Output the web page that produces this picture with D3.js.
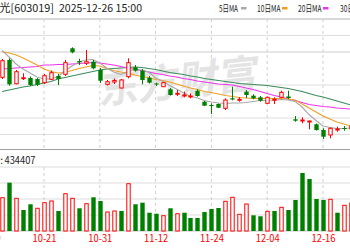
<!DOCTYPE html>
<html>
<head>
<meta charset="utf-8">
<script src="https://cdn.jsdelivr.net/npm/d3@7"></script>
<style>
  html, body { margin: 0; padding: 0; background: #fff; overflow: hidden; }
  text { font-family: "Noto Sans CJK SC", "DejaVu Sans", sans-serif; }
</style>
</head>
<body>
<svg id="kchart" width="350" height="250"></svg>
<script>

/****************************************************************************
 *  data
 ****************************************************************************/
var dates = ['10-13','10-14','10-15','10-16','10-17','10-20','10-21','10-22','10-23','10-24',
  '10-27','10-28','10-29','10-30','10-31','11-03','11-04','11-05','11-06','11-07',
  '11-10','11-11','11-12','11-13','11-14','11-17','11-18','11-19','11-20','11-21',
  '11-24','11-25','11-26','11-27','11-28','12-01','12-02','12-03','12-04','12-05',
  '12-08','12-09','12-10','12-11','12-12','12-15','12-16','12-17','12-18','12-19',
  '12-22'];
// trading days before the first visible candle (only used for the axis)
var earlyDates = ['10-09', '10-10'];

var opens = [92.33, 97.58, 90.39, 91.91, 92.12, 91.82, 90.70, 91.73, 92.73, 93.24,
  101.12, 97.27, 96.58, 97.06, 94.55, 90.21, 90.91, 89.09, 92.52, 95.36,
  94.33, 92.21, 90.45, 89.48, 88.70, 87.27, 86.67, 86.36, 88.27, 84.94,
  83.94, 84.24, 82.94, 85.97, 85.36, 87.97, 86.76, 86.27, 84.45, 85.45,
  86.27, 86.52, 79.61, 79.09, 78.79, 78.09, 76.36, 74.85, 76.45, 76.97,
  76.67];
var closes = [97.36, 90.21, 94.03, 92.21, 90.00, 90.09, 92.82, 93.73, 91.82, 96.76,
  99.91, 96.88, 97.06, 95.06, 91.30, 91.00, 91.36, 91.52, 96.76, 94.33,
  91.52, 90.70, 90.15, 90.70, 86.97, 87.48, 86.97, 86.67, 86.67, 83.73,
  83.73, 83.12, 85.45, 85.61, 85.67, 86.97, 85.97, 85.24, 86.27, 85.67,
  87.79, 86.06, 79.18, 79.39, 79.09, 76.36, 74.33, 76.88, 76.67, 76.67,
  77.58];
var highs = [97.88, 98.09, 94.55, 93.55, 92.58, 92.12, 93.33, 94.39, 93.33, 97.58,
  101.42, 97.97, 100.61, 97.58, 95.15, 91.52, 91.97, 91.82, 98.09, 96.06,
  94.85, 92.73, 90.70, 90.91, 89.09, 88.48, 87.97, 87.48, 88.70, 85.15,
  84.45, 84.39, 85.97, 89.48, 86.27, 88.48, 87.18, 86.67, 86.52, 86.27,
  88.27, 88.27, 80.61, 80.21, 79.18, 78.33, 76.88, 77.12, 77.36, 77.58,
  77.88];
var lows = [91.82, 89.79, 90.21, 91.52, 89.70, 89.70, 90.30, 91.52, 90.00, 92.73,
  99.61, 96.06, 96.06, 94.76, 90.61, 89.85, 90.30, 88.94, 92.03, 94.03,
  90.21, 90.45, 89.70, 89.39, 86.82, 86.67, 86.27, 85.97, 86.45, 83.64,
  81.21, 83.03, 82.42, 85.36, 84.94, 86.06, 85.67, 84.94, 84.24, 84.24,
  85.97, 85.76, 78.88, 78.39, 76.58, 76.21, 73.64, 73.85, 75.85, 76.15,
  76.36];

var volumes = [624000, 906000, 613000, 394000, 501000, 426000, 531000, 563000, 375000, 699000,
  613000, 426000, 512000, 632000, 563000, 356000, 375000, 375000, 887000, 501000,
  531000, 343000, 324000, 287000, 426000, 324000, 343000, 244000, 244000, 356000,
  413000, 431000, 557000, 632000, 313000, 506000, 294000, 276000, 369000, 375000,
  444000, 394000, 581000, 1088000, 975000, 600000, 581000, 594000, 343000, 482000,
  525000];
// volume colour follows close vs previous close: u = red, d = green
var volDir = ['u','d','u','d','d','u','u','u','d','u',
  'u','d','u','d','d','u','u','d','u','d',
  'd','d','d','u','d','u','d','d','d','d',
  'd','d','u','u','u','u','d','d','u','d',
  'u','d','d','d','d','d','d','u','d','u',
  'u'];

var ma5 = [100.45, 98.48, 96.36, 94.85, 93.64, 92.42, 91.82, 91.82, 92.58, 94.24,
  95.76, 96.97, 97.58, 97.73, 96.67, 95.15, 93.94, 93.18, 93.94, 94.85,
  94.55, 93.94, 92.12, 91.21, 89.85, 88.79, 87.58, 86.67, 86.06, 85.30,
  84.85, 84.55, 84.39, 84.55, 84.55, 84.70, 85.00, 85.30, 85.30, 85.45,
  85.61, 85.45, 85.00, 83.33, 81.06, 79.24, 77.58, 77.12, 76.82, 76.82,
  76.97];
var ma10 = [100.09, 99.70, 99.09, 98.18, 97.12, 96.06, 94.85, 94.09, 93.64, 93.79,
  94.39, 95.00, 95.45, 95.91, 95.76, 95.00, 94.39, 93.94, 93.64, 93.03,
  92.58, 92.27, 91.67, 91.36, 90.91, 90.30, 89.70, 89.09, 88.64, 88.03,
  87.73, 87.27, 86.82, 86.52, 86.21, 86.06, 85.91, 85.91, 85.91, 85.91,
  85.91, 85.76, 85.45, 84.24, 83.03, 81.82, 80.61, 79.70, 78.79, 78.18,
  77.58];
var ma20 = [94.85, 95.00, 95.15, 95.30, 95.45, 95.61, 96.06, 96.06, 96.21, 96.21,
  96.36, 96.52, 96.67, 96.82, 96.67, 96.36, 96.06, 95.61, 95.15, 94.70,
  94.39, 93.94, 93.48, 93.18, 92.73, 92.42, 91.97, 91.67, 91.21, 90.91,
  90.61, 90.30, 90.15, 90.00, 89.55, 89.09, 88.64, 88.03, 87.42, 86.82,
  86.36, 85.76, 85.30, 84.70, 84.09, 83.79, 83.48, 83.33, 83.03, 82.88,
  82.73];
var ma30 = [88.03, 88.48, 88.94, 89.39, 89.70, 90.15, 90.61, 91.06, 91.82, 92.27,
  92.73, 93.18, 93.64, 94.09, 94.55, 94.85, 95.00, 95.15, 95.30, 95.45,
  95.30, 95.00, 94.70, 94.24, 93.79, 93.48, 93.18, 92.73, 92.42, 91.97,
  91.67, 91.36, 91.06, 90.76, 90.45, 90.30, 90.15, 90.00, 89.85, 89.55,
  89.24, 88.94, 88.48, 88.03, 87.42, 86.82, 86.36, 85.76, 85.15, 84.55,
  83.94];

var tickDates = ['10-09', '10-21', '10-31', '11-12', '11-24', '12-04', '12-16'];
var priceGrid = [110, 105, 100, 90, 80, 75];
var volGrid = [0, 300000, 600000, 900000, 1200000];

var stockName = '中科曙光[603019]';
var stamp = '2025-12-26 15:00';
var legendNames = ['5日MA', '10日MA', '20日MA', '30日MA'];
var lastVolume = 434407;


/****************************************************************************
 *  scales
 ****************************************************************************/
var W = 350, H = 250;
var allDates = earlyDates.concat(dates);
function dayIdx(d) { return allDates.indexOf(d); }

var x = d3.scaleLinear()
  .domain([dayIdx('10-21'), dayIdx('12-16')])
  .range([44, 323]);
var yP = d3.scaleLinear().domain([80, 100]).range([118, 52]);
var yV = d3.scaleLinear().domain([0, 1200000]).range([231, 167]);

var RED = '#ff0000', GREEN = '#008000';
var maColors = ['#a8a8a8', '#f0a020', '#ee33ee', '#3a8c5c'];
var bodyW = 4.4;

var svg = d3.select('#kchart');
svg.append('rect').attr('width', W).attr('height', H).attr('fill', '#fff');


/****************************************************************************
 *  grid
 ****************************************************************************/
var grid = svg.append('g');

grid.selectAll('line.pg')
  .data(priceGrid)
  .enter().append('line')
  .attr('x1', 0).attr('x2', W)
  .attr('y1', function(d) { return yP(d); })
  .attr('y2', function(d) { return yP(d); })
  .attr('stroke', function(d, i) { return i === 0 ? '#b4b4b4' : '#dedede'; })
  .attr('stroke-width', function(d) { return d === 100 ? 1.6 : 1.2; });

grid.selectAll('line.vg')
  .data(volGrid)
  .enter().append('line')
  .attr('x1', 0).attr('x2', W)
  .attr('y1', function(d) { return yV(d); })
  .attr('y2', function(d) { return yV(d); })
  .attr('stroke', function(d) { return d === 0 ? '#c4c4c4' : '#dedede'; })
  .attr('stroke-width', 1.2);

// volume panel header line
grid.append('line')
  .attr('x1', 0).attr('x2', W).attr('y1', 149.5).attr('y2', 149.5)
  .attr('stroke', '#a0a0a0').attr('stroke-width', 1);

// dashed date lines, both panels
var segs = [[yP(110), 149], [yV(1200000), yV(0)]];
segs.forEach(function(s) {
  grid.selectAll(null)
    .data(tickDates)
    .enter().append('line')
    .attr('x1', function(d) { return x(dayIdx(d)); })
    .attr('x2', function(d) { return x(dayIdx(d)); })
    .attr('y1', s[0]).attr('y2', s[1])
    .attr('stroke', '#cfcfcf')
    .attr('stroke-dasharray', '3,3');
});

// watermark
svg.append('text')
  .attr('transform', 'translate(178,96) rotate(-6) skewX(-12)')
  .attr('text-anchor', 'middle')
  .attr('font-size', 40)
  .attr('font-weight', 'bold')
  .attr('fill', '#e4e4e4')
  .text('东方财富');


/****************************************************************************
 *  moving averages
 ****************************************************************************/
var maLine = d3.line()
  .x(function(d, i) { return x(dayIdx(dates[i])); })
  .y(function(d) { return yP(d); });

[ma30, ma20, ma10, ma5].forEach(function(arr, k) {
  svg.append('path')
    .attr('d', maLine(arr))
    .attr('fill', 'none')
    .attr('stroke', maColors[3 - k])
    .attr('stroke-width', 1.1);
});


/****************************************************************************
 *  candles
 ****************************************************************************/
var candles = dates.map(function(d, i) {
  return { date: d, o: opens[i], c: closes[i], h: highs[i], l: lows[i] };
});

var cg = svg.append('g').selectAll('g')
  .data(candles)
  .enter().append('g');

cg.append('line')
  .attr('x1', function(d) { return Math.round(x(dayIdx(d.date))) + 0.5; })
  .attr('x2', function(d) { return Math.round(x(dayIdx(d.date))) + 0.5; })
  .attr('y1', function(d) { return yP(d.h); })
  .attr('y2', function(d) { return yP(d.l); })
  .attr('stroke', function(d) { return d.c >= d.o ? RED : GREEN; });

cg.append('rect')
  .attr('x', function(d) { return Math.round(x(dayIdx(d.date))) + 0.5 - bodyW / 2 + (d.c >= d.o ? 0.5 : 0); })
  .attr('y', function(d) { return yP(Math.max(d.o, d.c)); })
  .attr('width', function(d) { return d.c >= d.o ? bodyW - 1 : bodyW; })
  .attr('height', function(d) { return Math.max(1, Math.abs(yP(d.o) - yP(d.c))); })
  .attr('fill', function(d) { return d.c >= d.o ? '#fff' : GREEN; })
  .attr('stroke', function(d) { return d.c >= d.o ? RED : GREEN; })
  .attr('stroke-width', function(d) { return d.c >= d.o ? 1 : 0; });


/****************************************************************************
 *  volume
 ****************************************************************************/
svg.append('g').selectAll('rect')
  .data(volumes)
  .enter().append('rect')
  .attr('x', function(d, i) { return Math.round(x(dayIdx(dates[i]))) + 0.5 - bodyW / 2 + (volDir[i] === 'u' ? 0.5 : 0); })
  .attr('y', function(d) { return yV(d); })
  .attr('width', function(d, i) { return volDir[i] === 'u' ? bodyW - 1 : bodyW; })
  .attr('height', function(d) { return yV(0) - yV(d); })
  .attr('fill', function(d, i) { return volDir[i] === 'u' ? '#fff' : GREEN; })
  .attr('stroke', function(d, i) { return volDir[i] === 'u' ? RED : 'none'; })
  .attr('stroke-width', 1);


/****************************************************************************
 *  texts
 ****************************************************************************/
svg.append('text')
  .attr('x', -33).attr('y', 12)
  .attr('font-size', 11).attr('fill', '#222')
  .attr('textLength', 87).attr('lengthAdjust', 'spacingAndGlyphs')
  .text(stockName);
svg.append('text')
  .attr('x', 59).attr('y', 12)
  .attr('font-size', 11).attr('fill', '#222')
  .attr('textLength', 83).attr('lengthAdjust', 'spacingAndGlyphs')
  .text(stamp);

var legX = [219, 257, 298, 340];
var leg = svg.append('g').selectAll('g')
  .data(legendNames)
  .enter().append('g')
  .attr('transform', function(d, i) { return 'translate(' + legX[i] + ',0)'; });
leg.append('text')
  .attr('y', 11.5)
  .attr('font-size', 9.5).attr('fill', '#222')
  .attr('textLength', function(d, i) { return i === 0 ? 19 : 23.5; })
  .attr('lengthAdjust', 'spacingAndGlyphs')
  .text(function(d) { return d; });
leg.append('rect')
  .attr('x', function(d, i) { return i === 0 ? 22 : 25; })
  .attr('y', 7).attr('width', 5.5).attr('height', 2.5)
  .attr('fill', function(d, i) { return maColors[i]; });

svg.append('text')
  .attr('x', 3).attr('y', 163.5)
  .attr('text-anchor', 'end')
  .attr('font-size', 10).attr('fill', '#222')
  .text('成交量:');
svg.append('text')
  .attr('x', 4.5).attr('y', 163.5)
  .attr('font-size', 10).attr('fill', '#222')
  .attr('textLength', 31).attr('lengthAdjust', 'spacingAndGlyphs')
  .text(lastVolume);

// date axis
var xAxis = d3.axisBottom(x)
  .tickValues(tickDates.map(dayIdx))
  .tickFormat(function(v) { return allDates[v]; })
  .tickSize(0)
  .tickPadding(0);

var ax = svg.append('g')
  .attr('transform', 'translate(0,235)')
  .call(xAxis);
ax.select('.domain').remove();
ax.selectAll('text')
  .attr('fill', RED)
  .attr('font-size', 10)
  .attr('font-family', '"DejaVu Sans Mono", monospace')
  .attr('textLength', 24)
  .attr('lengthAdjust', 'spacingAndGlyphs');

</script>
</body>
</html>
